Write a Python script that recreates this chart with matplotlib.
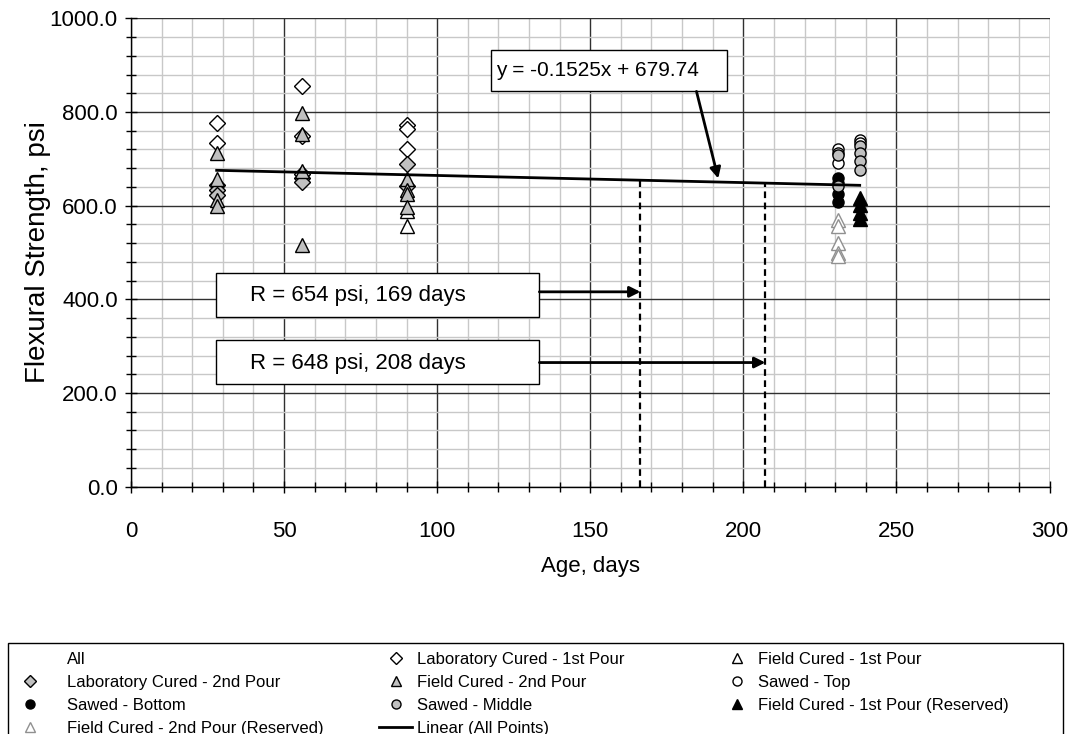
import numpy as np
import matplotlib
matplotlib.use("Agg")
import matplotlib.pyplot as plt
from matplotlib.lines import Line2D
from matplotlib.patches import Rectangle
from matplotlib.ticker import MultipleLocator, FormatStrFormatter

plt.rcParams["font.family"] = ["Liberation Sans", "DejaVu Sans"]

#################################################
# DATA
#################################################

lab1_age = [28, 28, 56, 56, 56, 90, 90, 90]
lab1_psi = [777, 734, 855, 748, 668, 773, 763, 721]

lab2_age = [28, 28, 28, 56, 56, 90, 90]
lab2_psi = [645, 634, 622, 660, 650, 688, 642]

fc1_age = [90, 90]
fc1_psi = [588, 556]

fc2_age = [28, 28, 28, 28, 56, 56, 56, 56, 90, 90, 90, 90]
fc2_psi = [713, 656, 613, 600, 797, 752, 675, 516, 656, 633, 625, 598]

top_age = [231, 231, 231, 238, 238]
top_psi = [720, 713, 691, 741, 734]

bottom_age = [231, 231, 231, 231]
bottom_psi = [659, 649, 624, 607]

middle_age = [231, 231, 238, 238, 238, 238]
middle_psi = [709, 641, 727, 713, 695, 677]

fc1r_age = [238, 238, 238, 238]
fc1r_psi = [616, 602, 584, 572]

fc2r_age = [231, 231, 231, 231, 231]
fc2r_psi = [570, 556, 520, 499, 492]

slope = -0.1525
intercept = 679.74

# ages where the dashed reference lines are drawn
ref_age = [166.4, 207.2]
ref_labels = ["R = 654 psi, 169 days", "R = 648 psi, 208 days"]

#################################################
# FIGURE
#################################################

fig = plt.figure(figsize=(10.82, 7.34), dpi=100)
ax = fig.add_axes([0.121, 0.337, 0.849, 0.638])

ax.set_xlim(0, 300)
ax.set_ylim(0, 1000)

ax.xaxis.set_major_locator(MultipleLocator(50))
ax.xaxis.set_minor_locator(MultipleLocator(10))
ax.yaxis.set_major_locator(MultipleLocator(200))
ax.yaxis.set_minor_locator(MultipleLocator(40))
ax.yaxis.set_major_formatter(FormatStrFormatter("%.1f"))

ax.grid(which="minor", color="#c8c8c8", linewidth=1.0)
ax.grid(which="major", color="#303030", linewidth=1.0)
ax.set_axisbelow(True)

for side in ["top", "right"]:
    ax.spines[side].set_visible(False)
for side in ["left", "bottom"]:
    ax.spines[side].set_linewidth(1.0)

ax.tick_params(which="major", direction="inout", length=9, width=1,
               labelsize=16)
ax.tick_params(which="minor", direction="inout", length=7, width=1)
ax.tick_params(axis="x", which="major", pad=20)
ax.tick_params(axis="y", which="major", pad=5)

ax.set_xlabel("Age, days", fontsize=16, labelpad=10)
ax.set_ylabel("Flexural Strength, psi", fontsize=20, labelpad=-1)

#################################################
# POINTS
#################################################

gray = "#c0c0c0"

ax.plot(lab1_age, lab1_psi, "D", ms=8, mfc="white", mec="black",
        mew=1.0, zorder=3)
ax.plot(lab2_age, lab2_psi, "D", ms=8, mfc=gray, mec="black",
        mew=1.0, zorder=3)
ax.plot(fc1_age, fc1_psi, "^", ms=10, mfc="white", mec="black",
        mew=1.0, zorder=3)
ax.plot(fc2_age, fc2_psi, "^", ms=10, mfc=gray, mec="black",
        mew=1.0, zorder=3)
ax.plot(top_age, top_psi, "o", ms=8, mfc="white", mec="black",
        mew=1.0, zorder=3)
ax.plot(bottom_age, bottom_psi, "o", ms=8, mfc="black", mec="black",
        mew=1.0, zorder=3)
ax.plot(middle_age, middle_psi, "o", ms=8, mfc=gray, mec="black",
        mew=1.0, zorder=3)
ax.plot(fc1r_age, fc1r_psi, "^", ms=10, mfc="black", mec="black",
        mew=1.0, zorder=3)
ax.plot(fc2r_age, fc2r_psi, "^", ms=10, mfc="white", mec="#909090",
        mew=1.0, zorder=3)

#################################################
# TREND LINE + REFERENCES
#################################################

all_age = np.concatenate([lab1_age, lab2_age, fc1_age, fc2_age, top_age,
                          bottom_age, middle_age, fc1r_age, fc2r_age])
trend_x = np.array([all_age.min(), all_age.max()])
ax.plot(trend_x, slope * trend_x + intercept, color="black",
        linewidth=2.0, zorder=4)

for xr in ref_age:
    ax.plot([xr, xr], [0, slope * xr + intercept], color="black",
            linewidth=1.6, linestyle=(0, (3, 2)), zorder=4)

arrow_style = dict(arrowstyle="-|>", color="black", lw=2.0,
                   mutation_scale=16, shrinkA=0, shrinkB=0)

# equation box
ax.add_patch(Rectangle((117.5, 844), 77.3, 89, facecolor="white",
                       edgecolor="black", linewidth=1.0, zorder=5))
ax.text(119.2, 888, "y = -0.1525x + 679.74", fontsize=15,
        va="center", ha="left", zorder=6)
ax.annotate("", xy=(191.8, 658), xytext=(184.7, 844),
            arrowprops=arrow_style, zorder=6)

# R boxes
box_y = [(362.6, 416), (219, 265)]
for (y0, ya), xr, lab in zip(box_y, ref_age, ref_labels):
    ax.add_patch(Rectangle((27.7, y0), 105.7, 94, facecolor="white",
                           edgecolor="black", linewidth=1.0, zorder=5))
    ax.text(38.8, y0 + 45, lab, fontsize=16, va="center", ha="left",
            zorder=6)
    ax.annotate("", xy=(xr, ya), xytext=(133.4, ya),
                arrowprops=arrow_style, zorder=6)

#################################################
# LEGEND (one legend per column)
#################################################

def mk(marker, face, edge="black", ms=7.5):
    return Line2D([], [], linestyle="none", marker=marker, ms=ms,
                  mfc=face, mec=edge, mew=1.0)

h_all = Line2D([], [], linestyle="none", marker="none")
h_lab1 = mk("D", "white", ms=6)
h_lab2 = mk("D", gray, ms=6)
h_fc1 = mk("^", "white")
h_fc2 = mk("^", gray)
h_top = mk("o", "white", ms=6.5)
h_bot = mk("o", "black", ms=6.5)
h_mid = mk("o", gray, ms=6.5)
h_fc1r = mk("^", "black")
h_fc2r = mk("^", "white", edge="#909090")
h_lin = Line2D([], [], color="black", linewidth=2.0)

columns = [
    ([h_all, h_lab2, h_bot, h_fc2r],
     ["All", "Laboratory Cured - 2nd Pour", "Sawed - Bottom",
      "Field Cured - 2nd Pour (Reserved)"],
     13, 1.24),
    ([h_lab1, h_fc2, h_mid, h_lin],
     ["Laboratory Cured - 1st Pour", "Field Cured - 2nd Pour",
      "Sawed - Middle", "Linear (All Points)"],
     379, 0.3),
    ([h_fc1, h_top, h_fc1r],
     ["Field Cured - 1st Pour", "Sawed - Top",
      "Field Cured - 1st Pour (Reserved)"],
     720, 0.3),
]

for col_handles, col_labels, x_px, pad in columns:
    fig.legend(col_handles, col_labels, loc="upper left",
               bbox_to_anchor=(x_px / 1082, 1 - 652 / 734),
               borderaxespad=0, borderpad=0, fontsize=12, frameon=False,
               handlelength=2.0, handletextpad=pad, labelspacing=0.47)

# legend frame, runs off the bottom of the image like the original
fig.add_artist(Rectangle((8 / 1082, -0.02), 1055 / 1082,
                         0.02 + 91 / 734, transform=fig.transFigure,
                         facecolor="none", edgecolor="black",
                         linewidth=1.0))

fig.savefig("out.png", dpi=100)
